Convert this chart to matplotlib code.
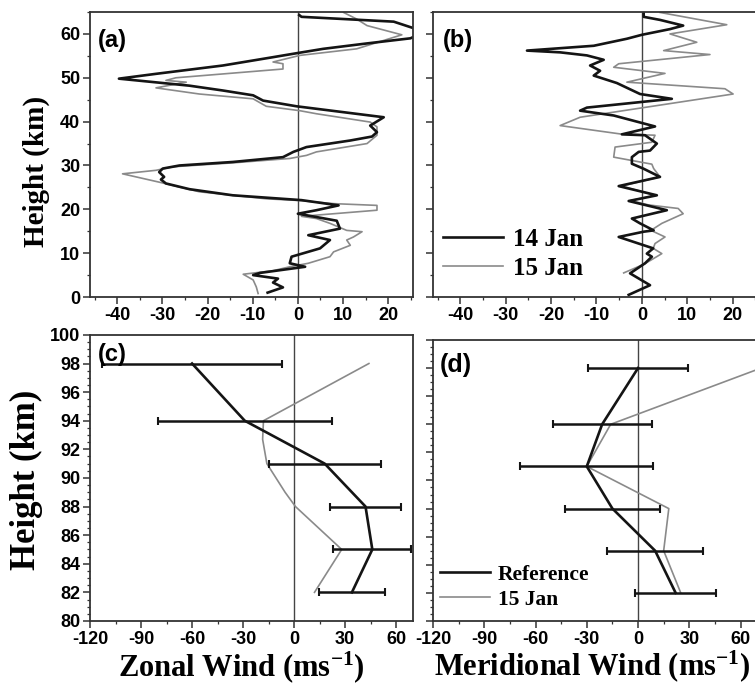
import numpy as np
import matplotlib
matplotlib.use("Agg")
import matplotlib.pyplot as plt
from matplotlib.ticker import MultipleLocator

plt.rcParams['mathtext.default'] = 'regular'
plt.rcParams['axes.unicode_minus'] = False

# ---- panel (a): zonal wind, 0-65 km ----
h14a = [1.0, 2.2, 3.3, 4.2, 5.0, 5.5, 6.9, 7.7, 9.2, 11.1, 13.0, 14.1, 15.6, 17.4, 18.3, 19.0,
        19.8, 20.9, 22.1, 23.2, 24.6, 25.9, 26.8, 27.4, 28.5, 29.3, 30.0, 30.8, 31.9, 33.1, 34.2,
        35.7, 36.6, 37.6, 39.1, 41.0, 43.5, 44.8, 46.0, 47.1, 48.2, 49.8, 50.9, 52.8, 54.7, 55.6,
        56.6, 57.8, 59.0, 60.5, 62.8, 63.9, 64.3]
u14a = [-6.7, -3.3, -5.5, -4.4, -9.9, -8.4, 1.6, -1.8, -1.4, 4.9, 7.1, 2.3, 9.3, 8.6, 3.8, 0.0,
        4.1, 9.0, 0.8, -14.4, -24.0, -29.2, -30.3, -29.6, -30.7, -29.9, -26.2, -14.4, -3.3, -1.0, 1.9,
        11.6, 16.4, 17.5, 16.0, 19.0, -0.3, -7.7, -9.9, -16.6, -24.0, -39.6, -31.4, -16.6, -5.5, -0.3,
        5.6, 15.0, 24.9, 28.0, 21.2, 0.8, 0.3]
h15a = [0.8, 2.3, 3.9, 5.2, 6.0, 6.9, 7.7, 9.2, 10.3, 11.8, 13.0, 13.7, 14.9, 15.2, 16.8, 17.9,
        18.4, 19.8, 20.9, 21.3, 22.0, 22.4, 24.0, 26.2, 28.1, 28.9, 29.7, 30.6, 31.6, 32.3, 33.1,
        35.0, 36.9, 38.8, 39.9, 41.8, 42.5, 43.5, 45.2, 46.3, 47.7, 49.0, 49.4, 50.0, 52.0, 53.2,
        53.6, 55.1, 56.6, 59.8, 61.9, 63.4, 64.9]
u15a = [-8.8, -9.2, -9.9, -12.1, -5.5, -1.8, 2.3, 7.1, 7.9, 11.6, 10.8, 12.3, 14.2, 10.8, 7.1, 4.1,
        0.8, 17.5, 17.5, 7.9, 0.5, -7.0, -21.8, -30.7, -38.8, -31.4, -27.7, -14.4, -1.8, 1.9, 4.1,
        15.3, 17.5, 17.5, 16.0, 4.1, 0.4, -7.0, -9.9, -21.8, -31.4, -24.7, -29.2, -27.0, -3.3, -3.3,
        -5.5, 0.4, 13.0, 23.0, 15.3, 13.0, 10.1]

# ---- panel (b): meridional wind, 0-65 km ----
h14b = [0.5, 2.7, 5.4, 7.7, 9.2, 9.9, 11.1, 13.7, 14.9, 15.2, 16.8, 17.9, 19.8, 21.9, 23.2, 25.3,
        27.4, 29.3, 30.4, 31.9, 33.1, 33.4, 35.0, 36.9, 37.1, 38.9, 41.4, 42.5, 43.2, 45.2, 46.3,
        48.8, 50.5, 51.6, 52.8, 54.1, 55.1, 55.8, 56.2, 57.3, 58.9, 59.8, 61.1, 61.9, 63.2, 63.9, 64.9]
v14b = [-2.9, 1.8, -2.6, 0.7, 2.2, 1.1, 2.5, -5.1, 0.4, 2.6, -0.4, -2.2, 5.5, -2.9, 3.3, -5.1,
        4.0, 0.3, -2.2, -2.2, -0.7, 1.8, 3.3, 0.7, -4.4, 2.9, -6.2, -13.6, -12.1, 6.6, -0.4,
        -5.5, -10.6, -9.2, -11.4, -8.4, -12.1, -18.0, -25.3, -10.6, -3.3, 0.0, 6.2, 9.1, 4.0, 0.4, 0.4]
h15b = [5.5, 7.5, 9.9, 11.1, 12.2, 13.7, 15.2, 16.8, 19.0, 20.2, 21.0, 22.0, 23.2, 25.3, 27.4,
        29.3, 30.3, 31.9, 34.2, 35.3, 36.9, 37.2, 39.1, 41.0, 46.3, 47.5, 49.0, 51.0, 52.4, 53.2,
        55.3, 56.2, 58.1, 60.0, 62.1, 64.9]
v15b = [-4.0, 0.5, 4.4, 2.5, 2.9, 5.1, 2.0, 4.4, 9.1, 8.0, 1.5, -2.5, 3.0, -4.5, 4.0,
        2.6, 2.2, -6.2, -5.9, 2.2, 2.9, -4.8, -18.0, -13.6, 20.1, 18.3, -3.3, 5.1, -6.2, -5.1,
        15.0, 4.8, 12.1, 6.2, 18.7, 4.0]

# ---- panels (c), (d): 80-100 km ----
h_meteor = [98, 94, 91, 88, 85, 82]
u_ref = [-60, -29, 18, 42, 46, 34]
u_ref_err = [53, 51, 33, 21, 23, 19.5]
h15c = [98, 94, 92.7, 91, 89, 88, 85, 82]
u15c = [44, -18, -18.5, -16, -5.3, 0.8, 28, 12]
v_ref = [0, -21, -30, -15, 10, 22]
v_ref_err = [29, 29, 39, 28, 28, 23.5]
v15d = [72, -16, -30, 18, 15, 25]

sans = ['Liberation Sans', 'DejaVu Sans']
serif = ['Liberation Serif', 'DejaVu Serif']
black = '#141414'
gray = '#8a8a8a'

fig = plt.figure(figsize=(7.55, 6.86), dpi=100)
ax_a = fig.add_axes([0.1192, 0.567, 0.428, 0.4155])
ax_b = fig.add_axes([0.5735, 0.567, 0.43, 0.4155])
ax_c = fig.add_axes([0.1192, 0.0948, 0.428, 0.417])
ax_d = fig.add_axes([0.5735, 0.0948, 0.43, 0.4096])


def style(ax, xmaj, xmin, ymaj, ymin, ylabels=True):
    ax.xaxis.set_major_locator(MultipleLocator(xmaj))
    ax.xaxis.set_minor_locator(MultipleLocator(xmin))
    ax.yaxis.set_major_locator(MultipleLocator(ymaj))
    ax.yaxis.set_minor_locator(MultipleLocator(ymin))
    ax.tick_params(which='major', direction='out', length=5, width=1.1, color='#333',
                   labelsize=13, pad=2)
    ax.tick_params(which='minor', direction='out', length=2.5, width=0.9, color='#333')
    if not ylabels:
        ax.tick_params(axis='y', labelleft=False)
    for lab in ax.get_xticklabels() + ax.get_yticklabels():
        lab.set_family(sans)
        lab.set_fontweight('bold')
    for sp in ax.spines.values():
        sp.set_color('#333')
        sp.set_linewidth(1.3)
    ax.axvline(0, color='#444', lw=1.0, zorder=1)


# (a)
ax_a.plot(u15a, h15a, color=gray, lw=1.2)
ax_a.plot(u14a, h14a, color=black, lw=1.9)
ax_a.set_xlim(-46, 25.5)
ax_a.set_ylim(0, 65)
style(ax_a, 10, 5, 10, 5)
ax_a.set_xticks([-40, -30, -20, -10, 0, 10, 20])
ax_a.set_ylabel('Height (km)', family=serif, fontweight='bold', fontsize=21)
ax_a.yaxis.set_label_coords(-0.167, 0.44)
ax_a.yaxis.label.set_va('center')
ax_a.text(0.025, 0.90, '(a)', transform=ax_a.transAxes, family=sans, fontweight='bold',
          fontsize=17, va='center')

# (b)
ax_b.plot(v15b, h15b, color=gray, lw=1.2, label='15 Jan')
ax_b.plot(v14b, h14b, color=black, lw=1.9, label='14 Jan')
ax_b.set_xlim(-46, 25.5)
ax_b.set_ylim(0, 65)
style(ax_b, 10, 5, 10, 5, ylabels=False)
ax_b.set_xticks([-40, -30, -20, -10, 0, 10, 20])
ax_b.text(0.03, 0.90, '(b)', transform=ax_b.transAxes, family=sans, fontweight='bold',
          fontsize=17, va='center')
hl, ll = ax_b.get_legend_handles_labels()
ax_b.legend(hl[::-1], ll[::-1], loc='lower left', bbox_to_anchor=(-0.04, -0.02), frameon=False,
            prop={'family': serif, 'weight': 'bold', 'size': 18}, handlelength=2.4,
            handletextpad=0.4, labelspacing=0.25)

# (c)
ax_c.plot(u15c, h15c, color=gray, lw=1.2)
ax_c.plot(u_ref, h_meteor, color=black, lw=1.9)
ax_c.errorbar(u_ref, h_meteor, xerr=u_ref_err, fmt='none', ecolor=black, elinewidth=1.8,
              capsize=3, capthick=1.5)
ax_c.set_xlim(-120, 70)
ax_c.set_ylim(80, 100)
style(ax_c, 30, 15, 2, 0.5)
ax_c.set_ylabel('Height (km)', family=serif, fontweight='bold', fontsize=25)
ax_c.yaxis.set_label_coords(-0.198, 0.493)
ax_c.yaxis.label.set_va('center')
ax_c.set_xlabel('Zonal Wind (ms$^{-1}$)', family=serif, fontweight='bold', fontsize=22)
ax_c.xaxis.set_label_coords(0.467, -0.16)
ax_c.xaxis.label.set_va('center')
ax_c.text(0.025, 0.93, '(c)', transform=ax_c.transAxes, family=sans, fontweight='bold',
          fontsize=17, va='center')

# (d)
ax_d.plot(v15d, h_meteor, color=gray, lw=1.2, label='15 Jan')
ax_d.plot(v_ref, h_meteor, color=black, lw=1.9, label='Reference')
ax_d.errorbar(v_ref, h_meteor, xerr=v_ref_err, fmt='none', ecolor=black, elinewidth=1.8,
              capsize=3, capthick=1.5)
ax_d.set_xlim(-120, 70)
ax_d.set_ylim(80, 100)
style(ax_d, 30, 15, 2, 0.5, ylabels=False)
ax_d.set_xlabel('Meridional Wind (ms$^{-1}$)', family=serif, fontweight='bold', fontsize=22)
ax_d.xaxis.set_label_coords(0.49, -0.16)
ax_d.xaxis.label.set_va('center')
ax_d.text(0.02, 0.91, '(d)', transform=ax_d.transAxes, family=sans, fontweight='bold',
          fontsize=18, va='center')
hl, ll = ax_d.get_legend_handles_labels()
ax_d.legend(hl[::-1], ll[::-1], loc='lower left', bbox_to_anchor=(-0.038, -0.03), frameon=False,
            prop={'family': serif, 'weight': 'bold', 'size': 15.5}, handlelength=2.3,
            handletextpad=0.4, labelspacing=0.25)

fig.savefig('out.png', dpi=100)
